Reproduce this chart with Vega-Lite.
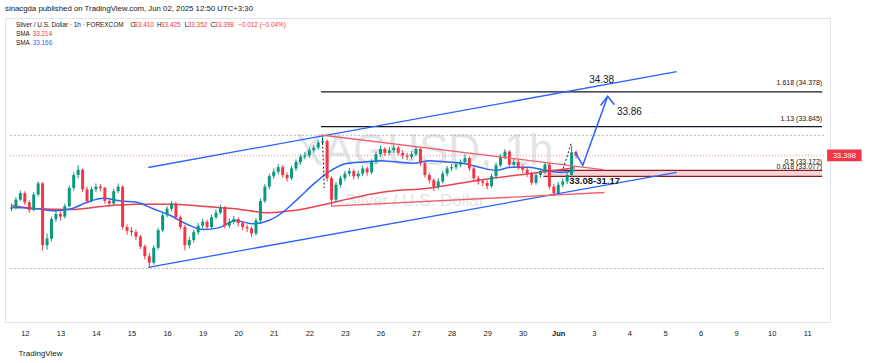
{
"$schema":"https://vega.github.io/schema/vega-lite/v6.json",
"width":825,"height":304,
"autosize":{"type":"none"},
"padding":{"left":5,"top":18,"right":40,"bottom":41},
"background":"#ffffff",
"config":{"view":{"stroke":"#e0e3eb"},"font":"Liberation Sans"},
"title":{"text":"sinacgda published on TradingView.com, Jun 02, 2025 12:50 UTC+3:30","anchor":"start","frame":"group","fontSize":7.8,"fontWeight":"normal","color":"#131722","offset":5},
"datasets":{
"candles":[
{"t":-0.375,"o":32.58,"h":32.66,"l":32.54,"c":32.6},
{"t":-0.25,"o":32.6,"h":32.76,"l":32.57,"c":32.72},
{"t":-0.125,"o":32.72,"h":32.86,"l":32.7,"c":32.82},
{"t":0,"o":32.82,"h":32.85,"l":32.64,"c":32.68},
{"t":0.125,"o":32.68,"h":32.71,"l":32.52,"c":32.56},
{"t":0.25,"o":32.56,"h":32.84,"l":32.54,"c":32.8},
{"t":0.375,"o":32.8,"h":33.0,"l":32.77,"c":32.97},
{"t":0.5,"o":32.97,"h":32.99,"l":31.94,"c":32.02},
{"t":0.625,"o":32.02,"h":32.2,"l":31.95,"c":32.12},
{"t":0.75,"o":32.12,"h":32.46,"l":32.08,"c":32.42},
{"t":0.875,"o":32.42,"h":32.55,"l":32.38,"c":32.5},
{"t":1.0,"o":32.5,"h":32.54,"l":32.4,"c":32.46},
{"t":1.125,"o":32.46,"h":32.66,"l":32.43,"c":32.62},
{"t":1.25,"o":32.62,"h":32.94,"l":32.6,"c":32.9},
{"t":1.375,"o":32.9,"h":33.14,"l":32.86,"c":33.1},
{"t":1.5,"o":33.1,"h":33.25,"l":33.05,"c":33.18},
{"t":1.625,"o":33.18,"h":33.2,"l":32.84,"c":32.88},
{"t":1.75,"o":32.88,"h":32.92,"l":32.66,"c":32.7},
{"t":1.875,"o":32.7,"h":32.92,"l":32.68,"c":32.88},
{"t":2.0,"o":32.88,"h":32.97,"l":32.84,"c":32.92},
{"t":2.125,"o":32.92,"h":32.96,"l":32.85,"c":32.9},
{"t":2.25,"o":32.9,"h":32.92,"l":32.66,"c":32.7},
{"t":2.375,"o":32.7,"h":32.74,"l":32.62,"c":32.66},
{"t":2.5,"o":32.66,"h":32.89,"l":32.63,"c":32.85},
{"t":2.625,"o":32.85,"h":32.97,"l":32.82,"c":32.92},
{"t":2.75,"o":32.92,"h":32.94,"l":32.26,"c":32.3},
{"t":2.875,"o":32.3,"h":32.34,"l":32.18,"c":32.24},
{"t":3.0,"o":32.24,"h":32.3,"l":32.16,"c":32.22},
{"t":3.125,"o":32.22,"h":32.26,"l":32.1,"c":32.15},
{"t":3.25,"o":32.15,"h":32.18,"l":31.96,"c":32.0},
{"t":3.375,"o":32.0,"h":32.03,"l":31.8,"c":31.85},
{"t":3.5,"o":31.85,"h":31.9,"l":31.68,"c":31.75},
{"t":3.625,"o":31.75,"h":32.02,"l":31.72,"c":31.98},
{"t":3.75,"o":31.98,"h":32.29,"l":31.95,"c":32.25},
{"t":3.875,"o":32.25,"h":32.52,"l":32.22,"c":32.48},
{"t":4.0,"o":32.48,"h":32.62,"l":32.45,"c":32.58},
{"t":4.125,"o":32.58,"h":32.7,"l":32.54,"c":32.66},
{"t":4.25,"o":32.66,"h":32.68,"l":32.41,"c":32.45},
{"t":4.375,"o":32.45,"h":32.48,"l":32.26,"c":32.3},
{"t":4.5,"o":32.3,"h":32.33,"l":31.94,"c":32.02},
{"t":4.625,"o":32.02,"h":32.15,"l":31.97,"c":32.1},
{"t":4.75,"o":32.1,"h":32.26,"l":32.06,"c":32.22},
{"t":4.875,"o":32.22,"h":32.36,"l":32.18,"c":32.32},
{"t":5.0,"o":32.32,"h":32.43,"l":32.28,"c":32.38},
{"t":5.125,"o":32.38,"h":32.41,"l":32.25,"c":32.3},
{"t":5.25,"o":32.3,"h":32.49,"l":32.27,"c":32.45},
{"t":5.375,"o":32.45,"h":32.57,"l":32.42,"c":32.52},
{"t":5.5,"o":32.52,"h":32.64,"l":32.49,"c":32.6},
{"t":5.625,"o":32.6,"h":32.62,"l":32.28,"c":32.32},
{"t":5.75,"o":32.32,"h":32.43,"l":32.28,"c":32.38},
{"t":5.875,"o":32.38,"h":32.47,"l":32.34,"c":32.42},
{"t":6.0,"o":32.42,"h":32.45,"l":32.31,"c":32.36},
{"t":6.125,"o":32.36,"h":32.39,"l":32.25,"c":32.3},
{"t":6.25,"o":32.3,"h":32.34,"l":32.22,"c":32.28},
{"t":6.375,"o":32.28,"h":32.31,"l":32.15,"c":32.2},
{"t":6.5,"o":32.2,"h":32.44,"l":32.17,"c":32.4},
{"t":6.625,"o":32.4,"h":32.74,"l":32.37,"c":32.7},
{"t":6.75,"o":32.7,"h":32.96,"l":32.67,"c":32.92},
{"t":6.875,"o":32.92,"h":33.12,"l":32.88,"c":33.08},
{"t":7.0,"o":33.08,"h":33.2,"l":33.04,"c":33.15},
{"t":7.125,"o":33.15,"h":33.27,"l":33.11,"c":33.22},
{"t":7.25,"o":33.22,"h":33.25,"l":33.06,"c":33.1},
{"t":7.375,"o":33.1,"h":33.14,"l":33.0,"c":33.05},
{"t":7.5,"o":33.05,"h":33.24,"l":33.02,"c":33.2},
{"t":7.625,"o":33.2,"h":33.34,"l":33.16,"c":33.3},
{"t":7.75,"o":33.3,"h":33.42,"l":33.26,"c":33.38},
{"t":7.875,"o":33.38,"h":33.45,"l":33.34,"c":33.4},
{"t":8.0,"o":33.4,"h":33.52,"l":33.36,"c":33.48},
{"t":8.125,"o":33.48,"h":33.56,"l":33.44,"c":33.52},
{"t":8.25,"o":33.52,"h":33.64,"l":33.49,"c":33.6},
{"t":8.375,"o":33.6,"h":33.71,"l":33.56,"c":33.62},
{"t":8.5,"o":33.62,"h":33.65,"l":33.0,"c":33.05},
{"t":8.625,"o":33.05,"h":33.08,"l":32.62,"c":32.72},
{"t":8.75,"o":32.72,"h":32.99,"l":32.68,"c":32.95},
{"t":8.875,"o":32.95,"h":33.09,"l":32.91,"c":33.05},
{"t":9.0,"o":33.05,"h":33.16,"l":33.01,"c":33.12},
{"t":9.125,"o":33.12,"h":33.21,"l":33.08,"c":33.16},
{"t":9.25,"o":33.16,"h":33.19,"l":33.03,"c":33.08},
{"t":9.375,"o":33.08,"h":33.17,"l":33.04,"c":33.12},
{"t":9.5,"o":33.12,"h":33.24,"l":33.08,"c":33.2},
{"t":9.625,"o":33.2,"h":33.23,"l":33.09,"c":33.14},
{"t":9.75,"o":33.14,"h":33.34,"l":33.11,"c":33.3},
{"t":9.875,"o":33.3,"h":33.46,"l":33.27,"c":33.42},
{"t":10.0,"o":33.42,"h":33.55,"l":33.38,"c":33.5},
{"t":10.125,"o":33.5,"h":33.53,"l":33.39,"c":33.44},
{"t":10.25,"o":33.44,"h":33.53,"l":33.4,"c":33.48},
{"t":10.375,"o":33.48,"h":33.56,"l":33.44,"c":33.52},
{"t":10.5,"o":33.52,"h":33.55,"l":33.4,"c":33.44},
{"t":10.625,"o":33.44,"h":33.48,"l":33.35,"c":33.4},
{"t":10.75,"o":33.4,"h":33.44,"l":33.33,"c":33.38},
{"t":10.875,"o":33.38,"h":33.47,"l":33.34,"c":33.42},
{"t":11.0,"o":33.42,"h":33.55,"l":33.39,"c":33.5},
{"t":11.125,"o":33.5,"h":33.52,"l":33.24,"c":33.28},
{"t":11.25,"o":33.28,"h":33.31,"l":33.06,"c":33.1},
{"t":11.375,"o":33.1,"h":33.14,"l":32.97,"c":33.02},
{"t":11.5,"o":33.02,"h":33.05,"l":32.85,"c":32.92},
{"t":11.625,"o":32.92,"h":33.05,"l":32.88,"c":33.0},
{"t":11.75,"o":33.0,"h":33.16,"l":32.97,"c":33.12},
{"t":11.875,"o":33.12,"h":33.24,"l":33.08,"c":33.2},
{"t":12.0,"o":33.2,"h":33.27,"l":33.16,"c":33.22},
{"t":12.125,"o":33.22,"h":33.3,"l":33.18,"c":33.26},
{"t":12.25,"o":33.26,"h":33.34,"l":33.22,"c":33.3},
{"t":12.375,"o":33.3,"h":33.42,"l":33.27,"c":33.36},
{"t":12.5,"o":33.36,"h":33.38,"l":33.16,"c":33.2},
{"t":12.625,"o":33.2,"h":33.23,"l":33.01,"c":33.05},
{"t":12.75,"o":33.05,"h":33.09,"l":32.95,"c":33.0},
{"t":12.875,"o":33.0,"h":33.04,"l":32.93,"c":32.98},
{"t":13.0,"o":32.98,"h":33.02,"l":32.88,"c":32.93},
{"t":13.125,"o":32.93,"h":33.12,"l":32.9,"c":33.08},
{"t":13.25,"o":33.08,"h":33.29,"l":33.05,"c":33.25},
{"t":13.375,"o":33.25,"h":33.42,"l":33.22,"c":33.38},
{"t":13.5,"o":33.38,"h":33.5,"l":33.34,"c":33.46},
{"t":13.625,"o":33.46,"h":33.48,"l":33.22,"c":33.26},
{"t":13.75,"o":33.26,"h":33.35,"l":33.21,"c":33.3},
{"t":13.875,"o":33.3,"h":33.33,"l":33.18,"c":33.22},
{"t":14.0,"o":33.22,"h":33.26,"l":33.13,"c":33.18},
{"t":14.125,"o":33.18,"h":33.21,"l":33.07,"c":33.12},
{"t":14.25,"o":33.12,"h":33.15,"l":32.94,"c":32.98},
{"t":14.375,"o":32.98,"h":33.14,"l":32.95,"c":33.1},
{"t":14.5,"o":33.1,"h":33.2,"l":33.06,"c":33.16},
{"t":14.625,"o":33.16,"h":33.3,"l":33.12,"c":33.26},
{"t":14.75,"o":33.26,"h":33.28,"l":32.88,"c":32.92},
{"t":14.875,"o":32.92,"h":32.96,"l":32.77,"c":32.82},
{"t":15.0,"o":32.82,"h":32.99,"l":32.79,"c":32.95},
{"t":15.125,"o":32.95,"h":33.05,"l":32.91,"c":33.0},
{"t":15.25,"o":33.0,"h":33.14,"l":32.96,"c":33.1},
{"t":15.375,"o":33.1,"h":33.55,"l":33.06,"c":33.45},
{"t":15.5,"o":33.45,"h":33.48,"l":33.35,"c":33.398}
],
"sma":[
{"s":"a","t":-0.36,"p":32.63},{"s":"a","t":0.36,"p":32.58},{"s":"a","t":1.31,"p":32.57},{"s":"a","t":2.22,"p":32.62},{"s":"a","t":3.14,"p":32.65},{"s":"a","t":4.08,"p":32.65},{"s":"a","t":5.0,"p":32.62},{"s":"a","t":5.92,"p":32.58},{"s":"a","t":6.86,"p":32.52},{"s":"a","t":7.5,"p":32.55},{"s":"a","t":8.61,"p":32.67},{"s":"a","t":9.17,"p":32.74},{"s":"a","t":10.0,"p":32.83},{"s":"a","t":11.39,"p":32.9},{"s":"a","t":12.78,"p":33.02},{"s":"a","t":14.17,"p":33.12},{"s":"a","t":15.47,"p":33.21},
{"s":"b","t":-0.36,"p":32.6},{"s":"b","t":0.36,"p":32.58},{"s":"b","t":0.83,"p":32.55},{"s":"b","t":1.31,"p":32.58},{"s":"b","t":1.75,"p":32.68},{"s":"b","t":2.22,"p":32.74},{"s":"b","t":2.69,"p":32.7},{"s":"b","t":3.14,"p":32.68},{"s":"b","t":3.61,"p":32.58},{"s":"b","t":4.08,"p":32.48},{"s":"b","t":4.53,"p":32.35},{"s":"b","t":5.0,"p":32.26},{"s":"b","t":5.47,"p":32.29},{"s":"b","t":5.92,"p":32.4},{"s":"b","t":6.39,"p":32.35},{"s":"b","t":6.86,"p":32.4},{"s":"b","t":7.31,"p":32.55},{"s":"b","t":7.69,"p":32.74},{"s":"b","t":8.14,"p":32.97},{"s":"b","t":8.61,"p":33.17},{"s":"b","t":9.08,"p":33.28},{"s":"b","t":9.53,"p":33.3},{"s":"b","t":10.0,"p":33.32},{"s":"b","t":10.47,"p":33.3},{"s":"b","t":10.92,"p":33.28},{"s":"b","t":11.39,"p":33.32},{"s":"b","t":11.86,"p":33.3},{"s":"b","t":12.31,"p":33.28},{"s":"b","t":12.78,"p":33.22},{"s":"b","t":13.25,"p":33.17},{"s":"b","t":13.69,"p":33.22},{"s":"b","t":14.17,"p":33.22},{"s":"b","t":14.64,"p":33.17},{"s":"b","t":15.08,"p":33.14},{"s":"b","t":15.47,"p":33.17}
],
"channel":[{"id":"u","t":3.47,"p":33.215},{"id":"u","t":18.33,"p":34.69},{"id":"d","t":3.47,"p":31.68},{"id":"d","t":18.33,"p":33.14}],
"triangle":[{"id":"u","t":8.33,"p":33.715},{"id":"u","t":16.3,"p":33.18},{"id":"d","t":8.61,"p":32.62},{"id":"d","t":16.3,"p":32.83}],
"dotted":[{"id":"a","t":8.37,"p":33.66},{"id":"a","t":8.42,"p":32.9},{"id":"b","t":15.14,"p":33.2},{"id":"b","t":15.36,"p":33.58}],
"arrow":[{"id":"a","i":0,"t":15.47,"p":33.45},{"id":"a","i":1,"t":15.69,"p":33.25},{"id":"a","i":2,"t":16.39,"p":34.31},{"id":"b","i":0,"t":16.19,"p":34.17},{"id":"b","i":1,"t":16.39,"p":34.31},{"id":"b","i":2,"t":16.58,"p":34.18}],
"band":[{"t":14.58,"t2":22.42,"p":33.077,"p2":33.172}],
"grayLines":[{"t":-0.42,"t2":22.5,"p":33.71},{"t":-0.42,"t2":22.5,"p":31.66}],
"priceLine":[{"t":-0.42,"t2":22.5,"p":33.398}],
"fibLines":[{"t":8.33,"t2":22.42,"p":34.378},{"t":8.33,"t2":22.42,"p":33.845}],
"zoneLines":[{"t":14.58,"t2":22.42,"p":33.172},{"t":14.58,"t2":22.42,"p":33.077}],
"fibLabels":[{"t":22.42,"p":34.515,"txt":"1.618 (34.378)"},{"t":22.42,"p":33.96,"txt":"1.13 (33.845)"},{"t":22.42,"p":33.3,"txt":"0.5 (33.172)"},{"t":22.42,"p":33.215,"txt":"0.618 (33.077)"}],
"bigNotes":[{"t":16.22,"p":34.56,"txt":"34.38"},{"t":17.0,"p":34.07,"txt":"33.86"}],
"zoneNote":[{"t":15.31,"p":33.0,"txt":"33.08-31.17"}],
"wm1":[{"t":11.22,"p":33.45,"txt":"XAGUSD, 1h"}],
"wm2":[{"t":10.97,"p":32.7,"txt":"Silver / U.S. Dollar"}],
"legendBlack":[{"t":-0.25,"p":35.41,"txt":"Silver / U.S. Dollar · 1h · FOREXCOM"},{"t":2.97,"p":35.41,"txt":"O"},{"t":3.72,"p":35.41,"txt":"H"},{"t":4.5,"p":35.41,"txt":"L"},{"t":5.22,"p":35.41,"txt":"C"},{"t":-0.25,"p":35.27,"txt":"SMA"},{"t":-0.25,"p":35.135,"txt":"SMA"}],
"legendRed":[{"t":3.08,"p":35.41,"txt":"33.410"},{"t":3.83,"p":35.41,"txt":"33.425"},{"t":4.58,"p":35.41,"txt":"33.352"},{"t":5.33,"p":35.41,"txt":"33.398"},{"t":6.0,"p":35.41,"txt":"−0.012 (−0.04%)"},{"t":0.22,"p":35.27,"txt":"33.214"}],
"legendBlue":[{"t":0.22,"p":35.135,"txt":"33.166"}],
"priceBox":[{"t":22.56,"t2":23.53,"p":33.31,"p2":33.49}],
"priceText":[{"t":23.045,"p":33.398,"txt":"33.398"}]
},
"encoding":{
"x":{"field":"t","type":"quantitative","scale":{"domain":[-0.4167,22.5],"nice":false,"zero":false},
"axis":{"values":[0,1,2,3,4,5,6,7,8,9,10,11,12,13,14,15,16,17,18,19,20,21,22],
"labelExpr":"['12','13','14','15','16','19','20','21','22','23','26','27','28','29','30','Jun','3','4','5','6','9','10','11'][datum.value]",
"labelFontWeight":{"condition":{"test":"datum.value === 15","value":"bold"},"value":"normal"},
"ticks":false,"grid":false,"domainColor":"#e0e3eb","labelFontSize":7.5,"labelColor":"#131722","labelPadding":7,"labelFlush":false,"labelOverlap":false,
"title":"TradingView","titleAnchor":"start","titleAlign":"left","titleX":13,"titleY":31,"titleBaseline":"middle","titleFontSize":8,"titleFontWeight":"normal","titleColor":"#131722"}}
},
"layer":[
{"data":{"name":"band"},"mark":{"type":"rect","color":"#f7c5c8","opacity":0.75},
"encoding":{"x2":{"field":"t2"},"y":{"field":"p","type":"quantitative","scale":{"domain":[30.838,35.515],"nice":false,"zero":false},
"axis":{"orient":"right","values":[31,31.5,32,32.5,33,33.5,34,34.5,35],"format":".3f","ticks":false,"grid":false,"domainColor":"#e0e3eb","labelFontSize":7.5,"labelColor":"#131722","labelPadding":8,
"title":"USD","titleAngle":0,"titleX":18,"titleY":9,"titleAlign":"center","titleBaseline":"middle","titleFontSize":7,"titleFontWeight":"normal","titleColor":"#131722"}},"y2":{"field":"p2"}}},
{"data":{"name":"grayLines"},"mark":{"type":"rule","color":"#b2b5be","strokeDash":[2,2],"strokeWidth":1},
"encoding":{"x2":{"field":"t2"},"y":{"field":"p","type":"quantitative","axis":null}}},
{"data":{"name":"priceLine"},"mark":{"type":"rule","color":"#f23645","strokeDash":[1,2],"strokeWidth":2,"opacity":0.35},
"encoding":{"x2":{"field":"t2"},"y":{"field":"p","type":"quantitative","axis":null}}},
{"data":{"name":"wm1"},"mark":{"type":"text","fontSize":44,"color":"#c3c5cc","opacity":0.45,"align":"center","baseline":"middle"},
"encoding":{"y":{"field":"p","type":"quantitative","axis":null},"text":{"field":"txt"}}},
{"data":{"name":"wm2"},"mark":{"type":"text","fontSize":17,"color":"#c3c5cc","opacity":0.45,"align":"center","baseline":"middle"},
"encoding":{"y":{"field":"p","type":"quantitative","axis":null},"text":{"field":"txt"}}},
{"data":{"name":"fibLines"},"mark":{"type":"rule","color":"#131722","strokeWidth":1.3},
"encoding":{"x2":{"field":"t2"},"y":{"field":"p","type":"quantitative","axis":null}}},
{"data":{"name":"zoneLines"},"mark":{"type":"rule","color":"#8c1c24","strokeWidth":1.3},
"encoding":{"x2":{"field":"t2"},"y":{"field":"p","type":"quantitative","axis":null}}},
{"data":{"name":"sma"},"mark":{"type":"line","strokeWidth":1.5,"interpolate":"monotone"},
"encoding":{"y":{"field":"p","type":"quantitative","axis":null},"color":{"field":"s","type":"nominal","scale":{"domain":["a","b"],"range":["#e8424f","#2962ff"]},"legend":null}}},
{"data":{"name":"candles"},"mark":{"type":"rule","strokeWidth":1},
"encoding":{"y":{"field":"l","type":"quantitative","axis":null,"scale":{"domain":[30.838,35.515],"nice":false,"zero":false}},"y2":{"field":"h"},
"color":{"condition":{"test":"datum.c >= datum.o","value":"#089981"},"value":"#f23645"}}},
{"data":{"name":"candles"},"mark":{"type":"bar","size":3},
"encoding":{"y":{"field":"o","type":"quantitative","axis":null,"scale":{"domain":[30.838,35.515],"nice":false,"zero":false}},"y2":{"field":"c"},
"color":{"condition":{"test":"datum.c >= datum.o","value":"#089981"},"value":"#f23645"}}},
{"data":{"name":"channel"},"mark":{"type":"line","color":"#2962ff","strokeWidth":1.3},
"encoding":{"y":{"field":"p","type":"quantitative","axis":null},"detail":{"field":"id"}}},
{"data":{"name":"triangle"},"mark":{"type":"line","color":"#ef5f6b","strokeWidth":1.3},
"encoding":{"y":{"field":"p","type":"quantitative","axis":null},"detail":{"field":"id"}}},
{"data":{"name":"dotted"},"mark":{"type":"line","color":"#131722","strokeWidth":1,"strokeDash":[2,2]},
"encoding":{"y":{"field":"p","type":"quantitative","axis":null},"detail":{"field":"id"}}},
{"data":{"name":"arrow"},"mark":{"type":"line","color":"#2962ff","strokeWidth":1.5},
"encoding":{"y":{"field":"p","type":"quantitative","axis":null},"detail":{"field":"id"},"order":{"field":"i"}}},
{"data":{"name":"fibLabels"},"mark":{"type":"text","fontSize":7,"color":"#131722","align":"right","baseline":"middle"},
"encoding":{"y":{"field":"p","type":"quantitative","axis":null},"text":{"field":"txt"}}},
{"data":{"name":"bigNotes"},"mark":{"type":"text","fontSize":10,"color":"#131722","align":"center","baseline":"middle"},
"encoding":{"y":{"field":"p","type":"quantitative","axis":null},"text":{"field":"txt"}}},
{"data":{"name":"zoneNote"},"mark":{"type":"text","fontSize":9.5,"fontWeight":"bold","color":"#131722","align":"left","baseline":"middle"},
"encoding":{"y":{"field":"p","type":"quantitative","axis":null},"text":{"field":"txt"}}},
{"data":{"name":"legendBlack"},"mark":{"type":"text","fontSize":6.4,"color":"#131722","align":"left","baseline":"middle"},
"encoding":{"y":{"field":"p","type":"quantitative","axis":null},"text":{"field":"txt"}}},
{"data":{"name":"legendRed"},"mark":{"type":"text","fontSize":6.4,"color":"#f23645","align":"left","baseline":"middle"},
"encoding":{"y":{"field":"p","type":"quantitative","axis":null},"text":{"field":"txt"}}},
{"data":{"name":"legendBlue"},"mark":{"type":"text","fontSize":6.4,"color":"#2962ff","align":"left","baseline":"middle"},
"encoding":{"y":{"field":"p","type":"quantitative","axis":null},"text":{"field":"txt"}}},
{"data":{"name":"priceBox"},"mark":{"type":"rect","color":"#f23645"},
"encoding":{"x2":{"field":"t2"},"y":{"field":"p","type":"quantitative","axis":null},"y2":{"field":"p2"}}},
{"data":{"name":"priceText"},"mark":{"type":"text","fontSize":7.5,"color":"#ffffff","align":"center","baseline":"middle"},
"encoding":{"y":{"field":"p","type":"quantitative","axis":null},"text":{"field":"txt"}}}
]
}
